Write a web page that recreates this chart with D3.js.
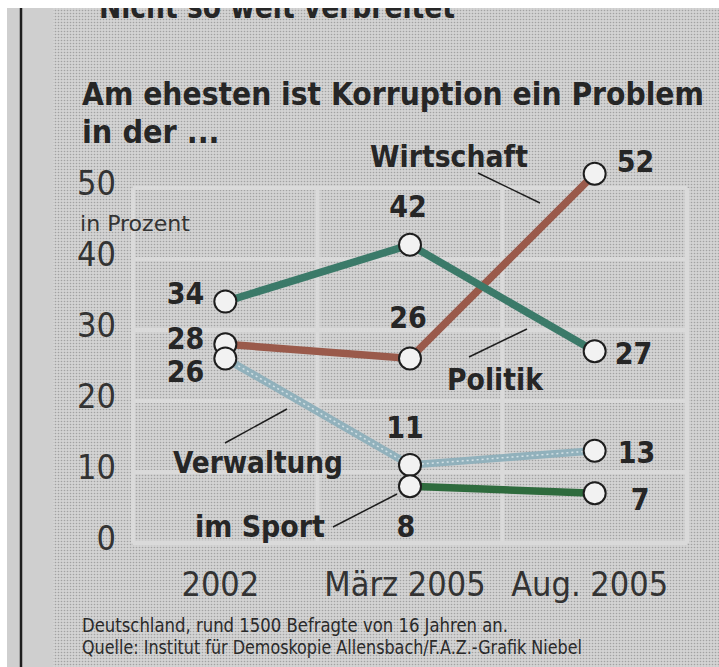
<!DOCTYPE html>
<html>
<head>
<meta charset="utf-8">
<script src="https://cdn.jsdelivr.net/npm/d3@7"></script>
<style>
  body { margin: 0; background: #fff; }
  svg { display: block; }
  text { font-family: "Liberation Sans Narrow", "DejaVu Sans Condensed", "Liberation Sans", sans-serif; }
</style>
</head>
<body>
<script>
// Umfrage: Korruption, in Prozent
var periods = ['2002', 'März 2005', 'Aug. 2005'];
var politik = [34, 42, 27];
var wirtschaft = [28, 26, 52];
var verwaltung = [26, 11, 13];
var sport = [null, 8, 7];
var yTicks = [0, 10, 20, 30, 40, 50];

var width = 719,
    height = 667;

var svg = d3.select('body')
    .append('svg')
    .attr('width', width)
    .attr('height', height)

var defs = svg.append('defs')
var pat = defs.append('pattern')
    .attr('id', 'raster')
    .attr('width', 3).attr('height', 3)
    .attr('patternUnits', 'userSpaceOnUse')
pat.append('rect').attr('width', 3).attr('height', 3).attr('fill', '#d3d3d3')
pat.append('circle').attr('cx', 1.5).attr('cy', 1.5).attr('r', 0.8).attr('fill', '#a2a2a2')

// Papier
svg.append('rect').attr('width', width).attr('height', height).attr('fill', '#ffffff')
svg.append('rect').attr('x', 7).attr('y', 8).attr('width', width - 7).attr('height', height - 8).attr('fill', '#cfcfcf')
svg.append('rect').attr('x', 53).attr('y', 8).attr('width', width - 53).attr('height', height - 8).attr('fill', 'url(#raster)')
svg.append('line')
    .attr('x1', 21).attr('x2', 21).attr('y1', 8).attr('y2', height)
    .attr('stroke', '#1e1e1e').attr('stroke-width', 2.5)

// abgeschnittene Überschrift oben
svg.append('text')
    .attr('x', 99).attr('y', 18)
    .attr('font-size', 32).attr('font-weight', 'bold').attr('fill', '#262626')
    .attr('textLength', 356).attr('lengthAdjust', 'spacingAndGlyphs')
    .text('Nicht so weit verbreitet')
svg.append('rect').attr('x', 53).attr('y', 0).attr('width', width - 53).attr('height', 8).attr('fill', '#ffffff')

// Titel
svg.append('text')
    .attr('x', 82).attr('y', 105)
    .attr('font-size', 32).attr('font-weight', 'bold').attr('fill', '#262626')
    .attr('textLength', 622).attr('lengthAdjust', 'spacingAndGlyphs')
    .text('Am ehesten ist Korruption ein Problem')
svg.append('text')
    .attr('x', 82).attr('y', 143)
    .attr('font-size', 32).attr('font-weight', 'bold').attr('fill', '#262626')
    .text('in der ...')

var xScale = d3.scaleBand()
    .domain(periods)
    .range([133, 687])

var yScale = d3.scaleLinear()
    .domain([0, 50])
    .range([543, 188])

var cx = function(p) { return xScale(p) + xScale.bandwidth() / 2 }

// Raster
var grid = svg.append('g').attr('stroke', '#dadada').attr('stroke-width', 4)
grid.selectAll('line.h')
    .data(yTicks)
    .join('line')
    .attr('class', 'h')
    .attr('x1', 133).attr('x2', 687)
    .attr('y1', d => yScale(d)).attr('y2', d => yScale(d))
grid.selectAll('line.v')
    .data(periods.concat(['end']))
    .join('line')
    .attr('class', 'v')
    .attr('x1', (d, i) => 133 + i * xScale.bandwidth())
    .attr('x2', (d, i) => 133 + i * xScale.bandwidth())
    .attr('y1', yScale(50)).attr('y2', yScale(0))

// Achsen
var yAxis = d3.axisLeft(yScale).tickValues(yTicks).tickSize(0).tickPadding(0)
var gy = svg.append('g').attr('transform', 'translate(116, -4)').call(yAxis)
gy.select('.domain').remove()
gy.selectAll('text')
    .attr('font-size', 34).attr('fill', '#333')
    .style('font-family', '"Liberation Sans Narrow", "DejaVu Sans Condensed", sans-serif')

svg.append('text')
    .attr('x', 80).attr('y', 231)
    .attr('font-size', 22).attr('fill', '#333')
    .attr('textLength', 110).attr('lengthAdjust', 'spacingAndGlyphs')
    .text('in Prozent')

var xAxis = d3.axisBottom(xScale).tickSize(0).tickPadding(0)
var gx = svg.append('g').attr('transform', 'translate(-5, 572)').call(xAxis)
gx.select('.domain').remove()
gx.selectAll('text')
    .attr('font-size', 34).attr('fill', '#333')
    .style('font-family', '"Liberation Sans Narrow", "DejaVu Sans Condensed", sans-serif')

// Linien
var series = [
    {name: 'Wirtschaft', values: wirtschaft, color: '#9a5a4b'},
    {name: 'Politik', values: politik, color: '#3b7a69'},
    {name: 'Verwaltung', values: verwaltung, color: '#91b1bc'},
    {name: 'im Sport', values: sport, color: '#2e6b3d'}
]

var line = d3.line()
    .defined(d => d.v != null)
    .x(d => cx(d.p))
    .y(d => yScale(d.v))

var pts = function(s) { return periods.map((p, i) => ({p: p, v: s.values[i]})) }

svg.append('g').selectAll('path')
    .data(series)
    .join('path')
    .attr('d', s => line(pts(s)))
    .attr('fill', 'none')
    .attr('stroke', s => s.color)
    .attr('stroke-width', 7.5)

// Strickmuster der Verwaltung-Linie
svg.append('path')
    .attr('d', line(pts(series[2])))
    .attr('fill', 'none')
    .attr('stroke', '#d4e2e6')
    .attr('stroke-width', 1.5)
    .attr('stroke-dasharray', '2 3')

// Punkte
var allPts = []
series.forEach(s => pts(s).forEach(d => { if (d.v != null) allPts.push(d) }))
svg.append('g').selectAll('circle')
    .data(allPts)
    .join('circle')
    .attr('cx', d => cx(d.p))
    .attr('cy', d => yScale(d.v))
    .attr('r', 11)
    .attr('fill', '#f2f2f2')
    .attr('stroke', '#1e1e1e')
    .attr('stroke-width', 2)

// Wertbeschriftung: Verschiebung je Serie und Zeitpunkt
var offsets = {
    'Politik': [[-21, 2, 'end'], [-2, -28, 'middle'], [20, 13, 'start']],
    'Wirtschaft': [[-21, 5, 'end'], [-2, -30, 'middle'], [22, -2, 'start']],
    'Verwaltung': [[-21, 24, 'end'], [-5, -27, 'middle'], [23, 12, 'start']],
    'im Sport': [null, [-4, 51, 'middle'], [36, 17, 'start']]
}

series.forEach(s => {
    pts(s).forEach((d, i) => {
        if (d.v == null) return
        var o = offsets[s.name][i]
        svg.append('text')
            .attr('x', cx(d.p) + o[0])
            .attr('y', yScale(d.v) + o[1])
            .attr('text-anchor', o[2])
            .attr('font-size', 30).attr('font-weight', 'bold').attr('fill', '#262626')
            .text(d.v)
    })
})

// Serienbeschriftung mit Hinweisstrich
var notes = [
    {text: 'Wirtschaft', x: 370, y: 167, w: 158, l: [478, 173, 540, 203]},
    {text: 'Politik', x: 447, y: 390, w: 96, l: [469, 357, 527, 329]},
    {text: 'Verwaltung', x: 173, y: 473, w: 170, l: [225, 443, 287, 409]},
    {text: 'im Sport', x: 195, y: 537, w: 130, l: [333, 527, 397, 494]}
]

svg.append('g').selectAll('line')
    .data(notes)
    .join('line')
    .attr('x1', d => d.l[0]).attr('y1', d => d.l[1])
    .attr('x2', d => d.l[2]).attr('y2', d => d.l[3])
    .attr('stroke', '#1e1e1e').attr('stroke-width', 1.5)

svg.append('g').selectAll('text')
    .data(notes)
    .join('text')
    .attr('x', d => d.x).attr('y', d => d.y)
    .attr('textLength', d => d.w).attr('lengthAdjust', 'spacingAndGlyphs')
    .attr('font-size', 31).attr('font-weight', 'bold').attr('fill', '#262626')
    .text(d => d.text)

// Fußnote
svg.append('text')
    .attr('x', 82).attr('y', 632)
    .attr('font-size', 19).attr('fill', '#2a2a2a')
    .attr('textLength', 426).attr('lengthAdjust', 'spacingAndGlyphs')
    .text('Deutschland,  rund 1500 Befragte von 16 Jahren an.')
svg.append('text')
    .attr('x', 82).attr('y', 654)
    .attr('font-size', 19).attr('fill', '#2a2a2a')
    .attr('textLength', 500).attr('lengthAdjust', 'spacingAndGlyphs')
    .text('Quelle: Institut für Demoskopie Allensbach/F.A.Z.-Grafik Niebel')
</script>
</body>
</html>
